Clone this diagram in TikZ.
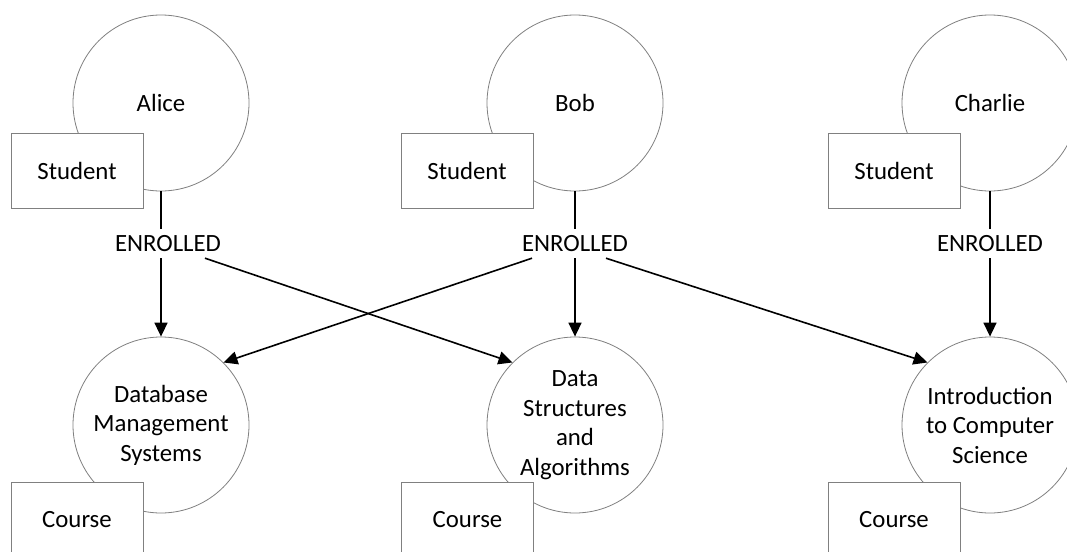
\documentclass[tikz,border=0pt]{standalone}
\usepackage{fontspec}
\setmainfont{Carlito}
\usetikzlibrary{arrows.meta}
\definecolor{outl}{RGB}{128,128,128}
\begin{document}
\begin{tikzpicture}[x=1pt,y=-1pt,
  txt/.style={font=\fontsize{24.8}{29.5}\selectfont},
  ent/.style={txt,circle,draw=outl,line width=0.8pt,minimum size=176pt,inner sep=0pt,align=center},
  typ/.style={txt,rectangle,draw=outl,line width=0.8pt,fill=white,minimum width=132pt,minimum height=75pt,inner sep=0pt},
  rel/.style={txt,inner sep=0pt,minimum height=29pt,minimum width=104pt},
  conn/.style={line width=1.6pt},
  arr/.style={conn,-{Triangle[length=14pt,width=13pt]}}]
\useasboundingbox (0,0) rectangle (1067,551);
\clip (0,0) rectangle (1067,551);
\fill[white] (0,0) rectangle (1067,551);
% entity circles
\node[ent] (alice) at (161,103) {Alice};
\node[ent] (bob) at (575,103) {Bob};
\node[ent] (charlie) at (990,103) {Charlie};
\node[ent] (dbms) at (161,425) {Database\\Management\\Systems};
\node[ent] (dsa) at (575,425) {Data\\Structures\\and\\Algorithms};
\node[ent] (intro) at (990,425) {Introduction\\to Computer\\Science};
% type boxes
\node[typ] (sa) at (77,170.5) {Student};
\node[typ] (sb) at (467,170.5) {Student};
\node[typ] (sc) at (894,170.5) {Student};
\node[typ] (cd) at (77,519.5) {Course};
\node[typ] (cs) at (467.5,519.5) {Course};
\node[typ] (ci) at (894,519.5) {Course};
% relation labels
\node[rel] (ea) at (168,243.5) {ENROLLED};
\node[rel] (eb) at (575,243.5) {ENROLLED};
\node[rel] (ec) at (990,243.5) {ENROLLED};
% connectors
\draw[conn] (alice.south) -- (alice.south |- ea.north);
\draw[arr] (ea.south -| dbms.north) -- (dbms.north);
\draw[arr] ([xshift=37pt]ea.south) -- (dsa.135);
\draw[conn] (bob.south) -- (eb.north);
\draw[arr] (eb.south) -- (dsa.north);
\draw[arr] ([xshift=-43pt]eb.south) -- (dbms.45);
\draw[arr] ([xshift=31pt]eb.south) -- (intro.135);
\draw[conn] (charlie.south) -- (ec.north);
\draw[arr] (ec.south) -- (intro.north);
\end{tikzpicture}
\end{document}
